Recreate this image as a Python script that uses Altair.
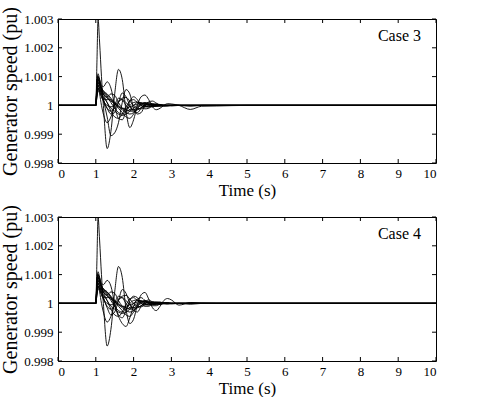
import altair as alt
import pandas as pd

# Sample times (s) shared by every generator trace
TIME = [0, 1.0, 1.03, 1.06, 1.1, 1.15, 1.2, 1.3, 1.4, 1.5, 1.6, 1.7, 1.8, 1.9,
        2.0, 2.1, 2.2, 2.3, 2.4, 2.5, 2.6, 2.7, 2.8, 2.9, 3.0, 3.2, 3.5, 3.8,
        4.2, 5.0, 10.0]

# Speed deviation of each generator from 1 pu, in units of 1e-4 pu
CASE3 = {
    "G1": [0, 0, 15, 30, 22, 10, 0, -15, -9, 4, 12.5, 9, -2, -7.7, -5, 0, 3, 3.6, 2, -0.5, -1.5, -1, 0, 0.6, 0.5, 0, -1.4, -0.3, -0.2, 0, 0],
    "G2": [0, 0, 5, 9, 8, 5, 2, -4, -10.5, -9.5, -6, 1, 5.5, 4, -1, -3, -2.5, 0, 1.2, 1.5, 0.8, 0, -0.3, -0.2, 0, 0, -0.2, 0, 0, 0, 0],
    "G3": [0, 0, 6, 10, 9, 7, 6.5, 8.2, 6, 0, -4.5, -5, -2, 1.5, 3, 2, 0, -1.2, -1, 0, 0.5, 0.3, 0, -0.2, 0, 0, 0, 0, 0, 0, 0],
    "G4": [0, 0, 4, 7, 6, 4, 2, -1, -3, -2.5, 1, 4.3, 3, 0, -2, -2.5, -1, 0.5, 1, 0.5, 0, -0.3, 0, 0, 0, 0, -0.2, 0, 0, 0, 0],
    "G5": [0, 0, 3, 6, 4, 0, -3, -6, -4, 0, 2.5, 2, 0, -1.5, -1.5, -0.5, 0.5, 0.8, 0.3, -0.2, -0.3, 0, 0, 0, 0, 0, 0, 0, 0, 0, 0],
    "G6": [0, 0, 8, 11, 9, 6, 4, 3, 4, 3.5, 1, -1, -2, -1.5, 0, 1, 1, 0, -0.5, -0.5, 0, 0.2, 0, 0, 0, 0, 0, 0, 0, 0, 0],
    "G7": [0, 0, 7, 9, 7, 5, 4, 2.5, 1.5, 0.5, -0.5, -1, -1.5, -2, -2, -1.5, -0.8, 0, 0.5, 0.6, 0.4, 0.2, 0, 0, 0, 0, 0, 0, 0, 0, 0],
    "G8": [0, 0, 5, 8, 6, 4, 3, 1, -1, -2, -3, -3.5, -3, -2, -1, 0, 0.5, 0.8, 0.5, 0.3, 0, -0.1, 0, 0, -0.2, 0, 0, 0, 0, 0, 0],
    "G9": [0, 0, 6, 8, 7, 6, 5, 4, 2.5, 1, 0, -1, -1, -0.5, 0, 0.5, 0.8, 0.5, 0, -0.3, -0.3, 0, 0.1, 0, 0, 0, 0, 0, 0, 0, 0],
    "G10": [0, 0, 4, 6, 5, 3, 2, 2, 2, 1, -0.5, -1.5, -2.5, -3, -2.5, -1, 0, 0.5, 0.3, 0, 0, 0, -0.2, 0, 0, 0, 0, 0, 0, 0, 0],
    "G11": [0, 0, 9, 10, 8, 5, 2, -1, -2, -1, 1, 2.5, 2.8, 1.5, 0, -1, -1.2, -0.5, 0, 0.4, 0.3, 0, 0, 0, 0, 0, 0, 0, 0, 0, 0],
    "G12": [0, 0, 3, 5, 5, 5, 4.5, 3, 1, -1, -2.5, -3, -2, 0, 1, 1.2, 0.5, -0.3, -0.5, -0.3, 0, 0.2, 0, 0, 0, 0, 0, 0, 0, 0, 0],
    "G13": [0, 0, 6, 9, 8, 6, 4, 1, -2, -4, -4.5, -3, -0.5, 1.5, 2, 1, 0, -0.5, -0.5, 0, 0.2, 0, 0, 0, 0, 0, 0, 0, 0, 0, 0],
    "G14": [0, 0, 5, 7, 5, 3, 1.5, 0, -0.5, 0, 1.5, 2, 1, -0.5, -1.5, -1.5, -0.8, 0, 0.3, 0.3, 0, 0, 0, 0, 0, 0, 0, 0, 0, 0, 0],
    "G15": [0, 0, 7, 10, 8, 6, 5, 3.5, 2, 0.5, -1, -2.5, -4, -4.5, -3, -1, 0.5, 1, 0.6, 0, -0.3, -0.2, 0, 0, 0, 0, 0, 0, 0, 0, 0],
}

CASE4 = {
    "G1": [0, 0, 15, 30, 22, 10, 0, -14.8, -9, 4, 12.8, 9, -2, -7, -5.5, -0.5, 3, 3.8, 1.5, -1.5, -2.5, -1, 1, 1.7, 1.2, -0.6, 0.3, 0.1, 0, 0, 0],
    "G2": [0, 0, 5, 9, 8, 6, 5, 4, 2, -1, -4.5, -7, -8, -5, -1, 1.5, 2, 1, 0, -0.8, -0.8, -0.2, 0.3, 0.3, 0, 0, 0, 0, 0, 0, 0],
    "G3": [0, 0, 6, 10, 9, 7, 6.5, 8, 6, 0, -4, -5, -2.5, 1, 2.5, 2, 0, -1, -1, 0, 0.5, 0.5, 0, -0.3, 0, 0, 0, 0, 0, 0, 0],
    "G4": [0, 0, 4, 7, 6, 4, 2, -1.5, -4, -3, 1, 4.8, 3.5, 0, -2.5, -3, -1, 0.5, 1.2, 0.5, 0, -0.4, 0, 0.2, 0, 0, -0.3, 0, 0, 0, 0],
    "G5": [0, 0, 3, 6, 4, 0, -3, -6.5, -4.5, 0, 2.5, 2, 0, -1.5, -1.5, -0.5, 0.5, 0.8, 0.3, -0.2, -0.3, 0, 0, 0, 0, 0, 0, 0, 0, 0, 0],
    "G6": [0, 0, 8, 11, 9, 6, 4, 3, 4, 3.5, 1, -1, -2, -1.5, 0, 1, 1, 0, -0.5, -0.5, 0, 0.2, 0, 0, 0, 0, 0, 0, 0, 0, 0],
    "G7": [0, 0, 7, 9, 7, 5, 4, 2.5, 1.5, 0.5, -0.5, -1, -1.5, -2, -2, -1.5, -0.8, 0, 0.5, 0.6, 0.4, 0.2, 0, 0, 0, 0, 0, 0, 0, 0, 0],
    "G8": [0, 0, 5, 8, 6, 4, 3, 1, -1, -2, -3, -3.5, -3, -2, -1, 0, 0.5, 0.8, 0.5, 0.3, 0, -0.1, 0, 0, -0.2, 0, 0, 0, 0, 0, 0],
    "G9": [0, 0, 6, 8, 7, 6, 5, 4, 2.5, 1, 0, -1, -1, -0.5, 0, 0.5, 0.8, 0.5, 0, -0.3, -0.3, 0, 0.1, 0, 0, 0, 0, 0, 0, 0, 0],
    "G10": [0, 0, 4, 6, 5, 3, 2, 2, 2, 1, -0.5, -1.5, -2.5, -3, -2.5, -1, 0, 0.5, 0.3, 0, 0, 0, -0.2, 0, 0, 0, 0, 0, 0, 0, 0],
    "G11": [0, 0, 9, 10, 8, 5, 2, -1, -2, -1, 1, 2.5, 2.8, 1.5, 0, -1, -1.2, -0.5, 0, 0.4, 0.3, 0, 0, 0, 0, 0, 0, 0, 0, 0, 0],
    "G12": [0, 0, 3, 5, 5, 5, 4.5, 3, 1, -1, -2.5, -3, -2, 0, 1, 1.2, 0.5, -0.3, -0.5, -0.3, 0, 0.2, 0, 0, 0, 0, 0, 0, 0, 0, 0],
    "G13": [0, 0, 6, 9, 8, 6, 4, 1, -2, -4, -4.5, -3, -0.5, 1.5, 2, 1, 0, -0.5, -0.5, 0, 0.2, 0, 0, 0, 0, 0, 0, 0, 0, 0, 0],
    "G14": [0, 0, 5, 7, 5, 3, 1.5, 0, -0.5, 0, 1.5, 2, 1, -0.5, -1.5, -1.5, -0.8, 0, 0.3, 0.3, 0, 0, 0, 0, 0, 0, 0, 0, 0, 0, 0],
    "G15": [0, 0, 7, 10, 8, 6, 5, 3.5, 2, 0.5, -1, -2.5, -4, -4.5, -3, -1, 0.5, 1, 0.6, 0, -0.3, -0.2, 0, 0, 0, 0, 0, 0, 0, 0, 0],
}

X_TICKS = [0, 1, 2, 3, 4, 5, 6, 7, 8, 9, 10]
Y_TICKS = [0.998, 0.999, 1.0, 1.001, 1.002, 1.003]
CASE_LABELS = ["Case 3", "Case 4"]

W, H = 378, 144
TICK = 4
FONT = "Liberation Serif"

X_SCALE = alt.Scale(domain=[0, 10], nice=False)
Y_SCALE = alt.Scale(domain=[0.998, 1.003], nice=False, zero=False)
X_AXIS = alt.Axis(
    values=X_TICKS, format="d", title="Time (s)",
    grid=False, ticks=False, domain=False, labelOverlap=False,
    labelFont=FONT, labelFontSize=13, labelColor="black", labelPadding=4,
    titleFont=FONT, titleFontSize=17, titleFontWeight="normal",
    titleColor="black", titlePadding=2,
)
Y_AXIS = alt.Axis(
    values=Y_TICKS, title="Generator speed (pu)",
    labelExpr="datum.value == 1 ? '1' : format(datum.value, '.3f')",
    grid=False, ticks=False, domain=False, labelOverlap=False,
    labelFont=FONT, labelFontSize=13, labelColor="black", labelPadding=5,
    titleFont=FONT, titleFontSize=20, titleFontWeight="normal",
    titleColor="black", titlePadding=3,
)


def xenc(field):
    return alt.X(field, scale=X_SCALE, axis=X_AXIS)


def yenc(field):
    return alt.Y(field, scale=Y_SCALE, axis=Y_AXIS)


def long_frame(traces):
    rows = []
    for name, devs in traces.items():
        for t, d in zip(TIME, devs):
            rows.append({"trace": name, "t": t, "speed": 1 + d * 1e-4})
    return pd.DataFrame(rows)


def panel(traces, label):
    df = long_frame(traces)

    lines = alt.Chart(df).mark_line(
        color="black", strokeWidth=0.9, clip=True, interpolate="monotone"
    ).encode(x=xenc("t:Q"), y=yenc("speed:Q"), detail="trace:N")

    xt = pd.DataFrame({"t": X_TICKS})
    yt = pd.DataFrame({"speed": Y_TICKS})
    # inward tick marks on all four sides of the frame
    x_bottom = alt.Chart(xt).mark_rule(color="black", strokeWidth=1).encode(
        x=xenc("t:Q"), y=alt.value(H - TICK), y2=alt.value(H))
    x_top = alt.Chart(xt).mark_rule(color="black", strokeWidth=1).encode(
        x=xenc("t:Q"), y=alt.value(0), y2=alt.value(TICK))
    y_left = alt.Chart(yt).mark_rule(color="black", strokeWidth=1).encode(
        y=yenc("speed:Q"), x=alt.value(0), x2=alt.value(TICK))
    y_right = alt.Chart(yt).mark_rule(color="black", strokeWidth=1).encode(
        y=yenc("speed:Q"), x=alt.value(W - TICK), x2=alt.value(W))

    text = alt.Chart(pd.DataFrame({"label": [label]})).mark_text(
        font=FONT, fontSize=16, align="right", baseline="middle", color="black"
    ).encode(x=alt.value(W - 15), y=alt.value(17), text="label:N")

    return alt.layer(lines, x_bottom, x_top, y_left, y_right, text).properties(width=W, height=H)


chart = alt.vconcat(
    panel(CASE3, CASE_LABELS[0]),
    panel(CASE4, CASE_LABELS[1]),
    spacing=54,
    bounds="flush",
).properties(
    padding={"left": 0, "top": 6, "right": 0, "bottom": 0},
    background="white",
).configure_view(
    stroke="black", strokeWidth=1
)

chart.save("out.html", embed_options={"renderer": "svg", "actions": False})
